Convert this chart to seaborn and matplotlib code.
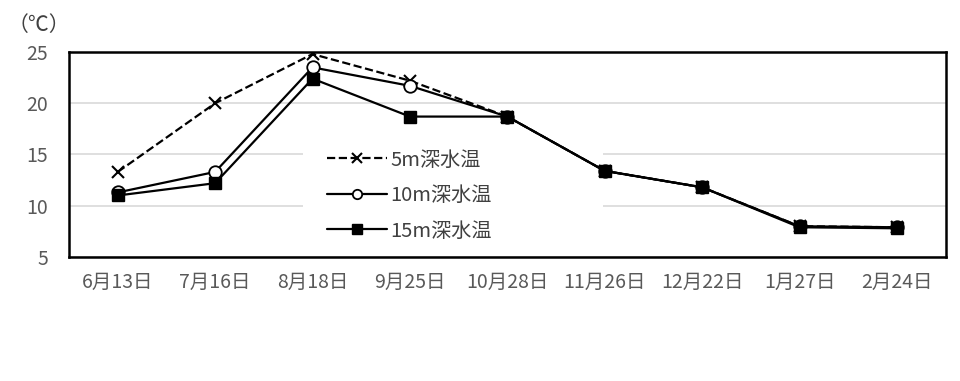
import matplotlib
matplotlib.use("Agg")
import matplotlib.pyplot as plt
from matplotlib.patches import Rectangle
import seaborn as sns
import pandas as pd

dates = ["6月13日", "7月16日", "8月18日", "9月25日", "10月28日",
         "11月26日", "12月22日", "1月27日", "2月24日"]
temp_5m = [13.3, 20.0, 24.8, 22.2, 18.7, 13.4, 11.8, 8.0, 7.9]
temp_10m = [11.3, 13.3, 23.5, 21.7, 18.7, 13.4, 11.8, 8.0, 7.9]
temp_15m = [11.0, 12.2, 22.4, 18.7, 18.7, 13.4, 11.8, 7.9, 7.8]
series_names = ["5m深水温", "10m深水温", "15m深水温"]

sns.set_theme(style="white")
plt.rcParams["font.family"] = ["Noto Sans CJK JP", "DejaVu Sans"]

fig = plt.figure(figsize=(9.6, 3.81), dpi=100)
ax = fig.add_axes([0.0719, 0.3255, 0.9131, 0.538])

xs = list(range(len(dates)))
styles = [
    dict(marker="x", linestyle="--", markersize=9, markeredgewidth=1.5,
         markerfacecolor="black", markeredgecolor="black"),
    dict(marker="o", linestyle="-", markersize=9, markeredgewidth=1.3,
         markerfacecolor="white", markeredgecolor="black"),
    dict(marker="s", linestyle="-", markersize=9, markeredgewidth=1.0,
         markerfacecolor="black", markeredgecolor="black"),
]
for name, vals, st in zip(series_names, [temp_5m, temp_10m, temp_15m], styles):
    df = pd.DataFrame({"x": xs, "y": vals})
    sns.lineplot(data=df, x="x", y="y", ax=ax, color="black", linewidth=1.6,
                 label=name, sort=False, zorder=3, **st)

ax.set_xlim(-0.5, len(dates) - 0.5)
ax.set_ylim(5, 25)
ax.set_yticks([5, 10, 15, 20, 25])
ax.set_xticks(xs)
ax.set_xticklabels(dates)
ax.set_xlabel("")
ax.set_ylabel("")
ax.grid(axis="y", color="#d9d9d9", linewidth=1.2)
ax.set_axisbelow(True)
for sp in ax.spines.values():
    sp.set_color("black")
    sp.set_linewidth(1.8)
ax.tick_params(axis="both", length=0, labelsize=14, colors="#595959")
ax.tick_params(axis="y", pad=15)
ax.tick_params(axis="x", pad=11)

# white legend area (covers gridlines like the original)
ax.add_patch(Rectangle((0.267, 0.06), 0.342, 0.51, transform=ax.transAxes,
                       facecolor="white", edgecolor="none", zorder=0.8))

leg = ax.legend(loc="center left", bbox_to_anchor=(0.294, 0.30), frameon=False,
                fontsize=14.5, handlelength=3.0, labelspacing=0.72,
                borderpad=0, handletextpad=0.15, borderaxespad=0,
                markerscale=0.75)
for t in leg.get_texts():
    t.set_color("#404040")

fig.text(0.008, 0.935, "（℃）", fontsize=15, color="#404040",
         ha="left", va="center")

fig.savefig("out.png", dpi=100)
